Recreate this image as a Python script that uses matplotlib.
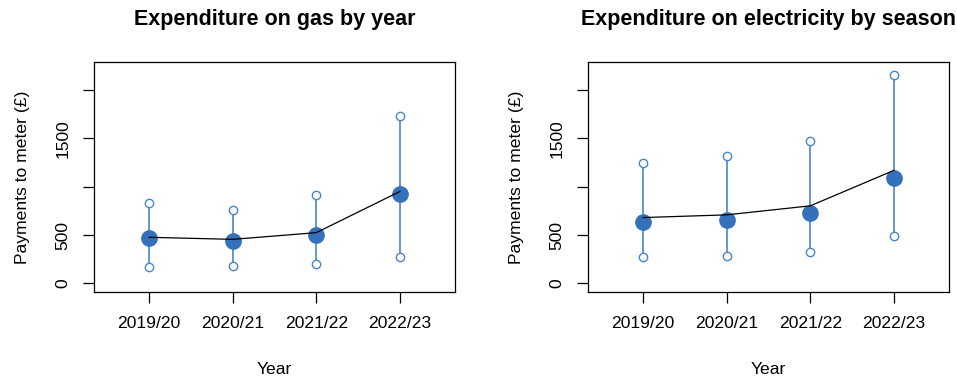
import matplotlib
matplotlib.use("Agg")
import matplotlib.pyplot as plt

plt.rcParams['font.family'] = ['Liberation Sans', 'DejaVu Sans']

years = ["2019/20", "2020/21", "2021/22", "2022/23"]

# Gas: mean (filled point), trend line, lower and upper bounds
gas_mean = [473, 442, 501, 923]
gas_line = [477, 456, 525, 950]
gas_low = [169, 180, 197, 276]
gas_high = [830, 760, 909, 1725]

# Electricity
elec_mean = [633, 657, 733, 1089]
elec_line = [681, 709, 802, 1168]
elec_low = [270, 283, 321, 491]
elec_high = [1245, 1314, 1469, 2158]

y_ticks = [0, 500, 1000, 1500, 2000]
y_tick_labels = ["0", "500", "", "1500", ""]

BLUE_LINE = "#4A85CA"
BLUE_POINT = "#3571BA"
W, H = 957, 378

fig = plt.figure(figsize=(W / 100, H / 100), dpi=100)


def panel(left_px, title, mean, line, low, high):
    ax = fig.add_axes([left_px / W, (H - 292) / H, 361 / W, 230 / H])
    x = list(range(1, len(years) + 1))
    ax.vlines(x, low, high, color=BLUE_LINE, lw=1.2, zorder=2)
    ax.plot(x, low, 'o', ms=6, mfc='white', mec=BLUE_LINE, mew=1.0, zorder=3)
    ax.plot(x, high, 'o', ms=6, mfc='white', mec=BLUE_LINE, mew=1.0, zorder=3)
    ax.plot(x, mean, 'o', ms=11, color=BLUE_POINT, zorder=4)
    ax.plot(x, line, '-', color='black', lw=0.9, zorder=5)

    ax.set_xlim(0.34, 4.66)
    ax.set_ylim(-88, 2288)
    ax.set_xticks(x)
    ax.set_xticklabels(years, fontsize=12.6)
    ax.set_yticks(y_ticks)
    ax.set_yticklabels(y_tick_labels, fontsize=12.6, rotation=90, va='center')
    ax.tick_params(axis='both', length=8, width=0.9, color='black')
    ax.tick_params(axis='x', pad=9)
    ax.tick_params(axis='y', pad=9)
    for s in ax.spines.values():
        s.set_linewidth(0.9)

    ax.set_xlabel("Year", fontsize=12.6, va='center')
    ax.xaxis.set_label_coords(0.5, -77 / 230)
    ax.set_ylabel("Payments to meter (£)", fontsize=12.6, va='center')
    ax.yaxis.set_label_coords(-72 / 361, 0.5)

    fig.text((left_px + 180.5) / W, 1 - 20 / H, title, fontsize=15.5,
             fontweight='bold', ha='center', va='center')
    return ax


panel(94, "Expenditure on gas by year", gas_mean, gas_line, gas_low, gas_high)
panel(588, "Expenditure on electricity by season", elec_mean, elec_line,
      elec_low, elec_high)

fig.savefig("out.png", dpi=100)
